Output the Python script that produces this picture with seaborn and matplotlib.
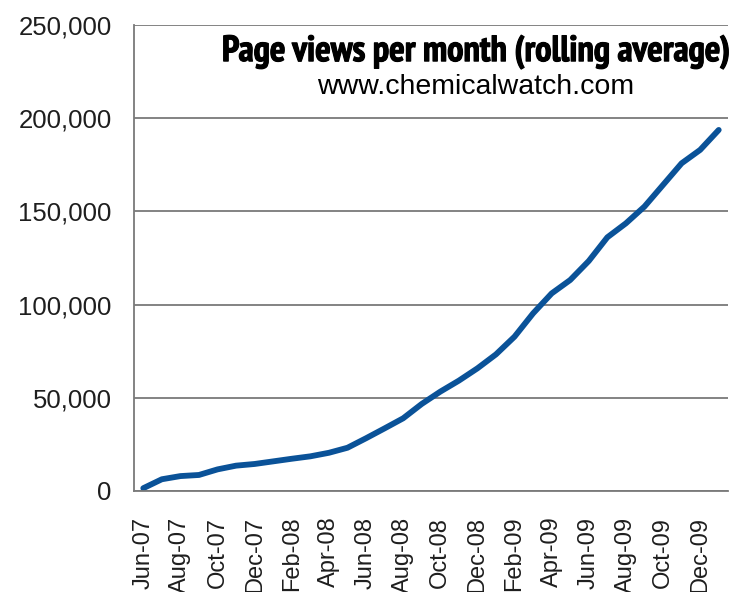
import matplotlib
matplotlib.use('Agg')
import matplotlib.pyplot as plt
import matplotlib.patheffects as pe
import seaborn as sns
import pandas as pd
from matplotlib.ticker import FuncFormatter
from matplotlib import font_manager

# Meses (Jun-07 ate Jan-10) e valores
months = ['Jun-07', 'Jul-07', 'Aug-07', 'Sep-07', 'Oct-07', 'Nov-07', 'Dec-07', 'Jan-08',
          'Feb-08', 'Mar-08', 'Apr-08', 'May-08', 'Jun-08', 'Jul-08', 'Aug-08', 'Sep-08',
          'Oct-08', 'Nov-08', 'Dec-08', 'Jan-09', 'Feb-09', 'Mar-09', 'Apr-09', 'May-09',
          'Jun-09', 'Jul-09', 'Aug-09', 'Sep-09', 'Oct-09', 'Nov-09', 'Dec-09', 'Jan-10']
page_views = [1500, 6300, 8000, 8600, 11600, 13600, 14500, 15900,
              17300, 18600, 20500, 23200, 28300, 33600, 39000, 46700,
              53300, 59200, 65800, 73300, 82800, 95300, 106000, 113200,
              123400, 136100, 143600, 152600, 164200, 175800, 183000, 193700]
y_ticks = [0, 50000, 100000, 150000, 200000, 250000]

df = pd.DataFrame({'idx': range(len(months)), 'month': months, 'views': page_views})

sns.set_style('white')
plt.rcParams['font.family'] = ['Liberation Sans', 'DejaVu Sans']

grey = '#7a7a7a'
txt = '#1e1e1e'

fig = plt.figure(figsize=(7.36, 5.92), dpi=100)
ax = fig.add_axes([134/736, 1 - 491/592, (728-134)/736, (491-25)/592])

sns.lineplot(data=df, x='idx', y='views', ax=ax, color='#0a5298', linewidth=4.2,
             solid_capstyle='round')

ax.set_xlim(-0.5, len(months) - 0.5)
ax.set_ylim(0, 250000)
ax.set_yticks(y_ticks)
ax.yaxis.set_major_formatter(FuncFormatter(lambda v, p: f'{int(v):,}'))
ax.tick_params(axis='y', length=6, width=1.3, color=grey, labelsize=18.5, labelcolor=txt, pad=10)

# ticks nos limites das categorias, rotulos a cada 2 meses
ax.set_xticks([i - 0.5 for i in range(0, len(months) + 1, 2)])
ax.set_xticklabels([])
ax.set_xticks(list(range(0, len(months), 2)), minor=True)
ax.set_xticklabels(months[::2], minor=True, rotation=90)
ax.tick_params(axis='x', which='major', length=6, width=1.3, color=grey)
ax.tick_params(axis='x', which='minor', length=0, labelsize=17, labelcolor=txt, pad=18.5)

ax.grid(axis='y', color=grey, linewidth=1.3)
ax.set_axisbelow(True)
sns.despine(ax=ax)
for s in ['left', 'bottom']:
    ax.spines[s].set_color(grey)
    ax.spines[s].set_linewidth(1.3)
ax.set_xlabel('')
ax.set_ylabel('')

# fonte condensada e pesada para o titulo
narrow = [f for f in font_manager.fontManager.ttflist if 'Narrow' in f.name]
narrow_bold = [f for f in narrow if f.weight in ('bold', 700, 'heavy', 800, 900) and 'Italic' not in f.fname]
title_kw = {}
if narrow_bold:
    title_kw['fontproperties'] = font_manager.FontProperties(fname=narrow_bold[0].fname, size=26.3)
    title_kw['path_effects'] = [pe.withStroke(linewidth=0.8, foreground='black')]
elif narrow:
    title_kw['family'] = narrow[0].name
    title_kw['fontsize'] = 26.3
    title_kw['path_effects'] = [pe.withStroke(linewidth=2.2, foreground='black')]
else:
    title_kw.update(family='DejaVu Sans', fontweight='bold', fontstretch='condensed', fontsize=19)

fig.text(476/736, 1 - 52/592, 'Page views per month (rolling average)', ha='center', va='center',
         color='black', **title_kw)
fig.text(476/736, 1 - 87/592, 'www.chemicalwatch.com', ha='center', va='center',
         fontsize=20.5, color='black')

fig.savefig('out.png', dpi=100)
